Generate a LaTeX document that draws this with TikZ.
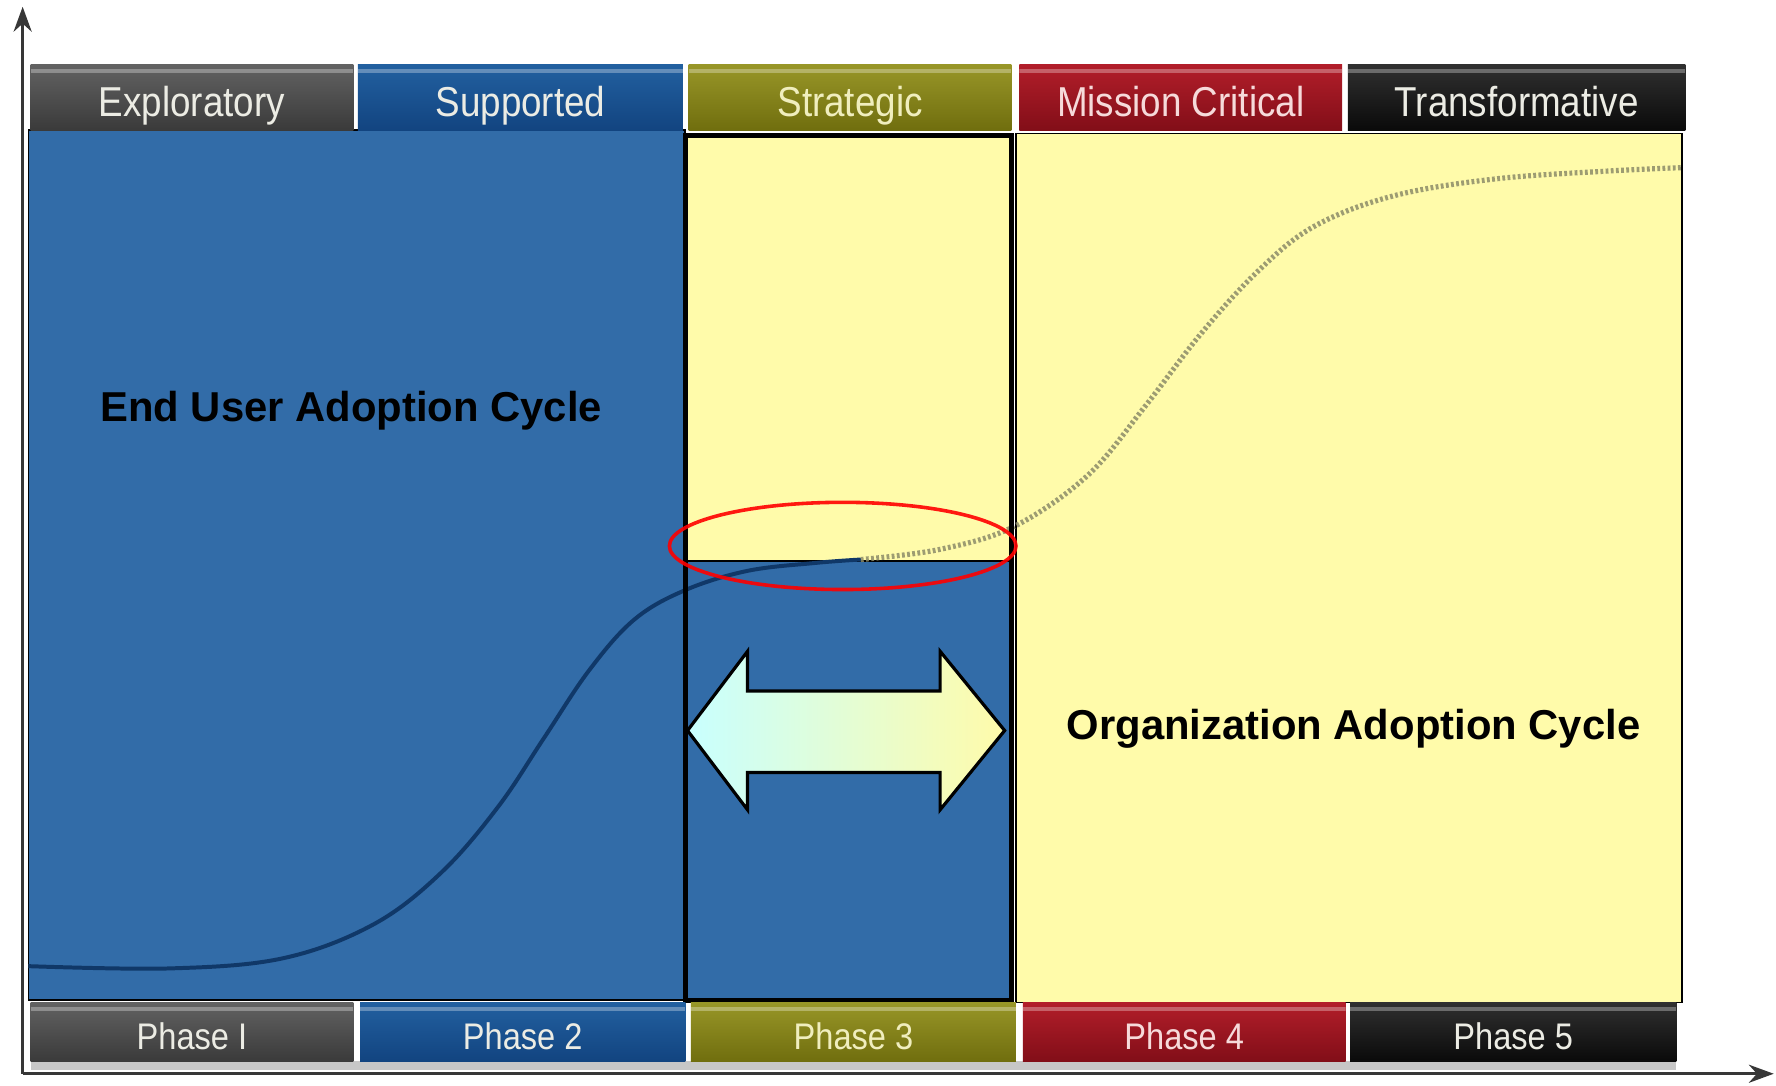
\documentclass[tikz,border=0pt]{standalone}
\usepackage{fontspec}
\setsansfont{Liberation Sans}
\usepackage{tikz}
\usetikzlibrary{positioning,arrows.meta,calc}
\definecolor{acGrayT}{RGB}{98,98,98}
\definecolor{acGrayB}{RGB}{58,58,58}
\definecolor{acBlueT}{RGB}{34,96,160}
\definecolor{acBlueB}{RGB}{18,68,128}
\definecolor{acOliveT}{RGB}{152,150,40}
\definecolor{acOliveB}{RGB}{112,110,14}
\definecolor{acRedT}{RGB}{178,30,42}
\definecolor{acRedB}{RGB}{130,14,24}
\definecolor{acBlackT}{RGB}{48,48,48}
\definecolor{acBlackB}{RGB}{10,10,10}
\definecolor{acPanel}{RGB}{50,108,168}
\definecolor{acYellow}{RGB}{255,251,170}
\definecolor{acCurve}{RGB}{16,56,104}
\definecolor{acDots}{RGB}{140,140,105}
\definecolor{acAxis}{RGB}{55,55,55}
\definecolor{acCyan}{RGB}{200,255,255}
\definecolor{acText}{RGB}{236,236,228}
\newcommand{\narrowtxt}[1]{\scalebox{0.88}[1]{#1}}
\tikzset{
    base/.style={font=\sffamily, align=center},
    bar/.style={base, rectangle, inner sep=0pt, text=acText,
                font=\sffamily\fontsize{10.5}{12}\selectfont,
                path picture={\draw[white, opacity=0.3, line width=1pt]
                  ([yshift=-1.6pt]path picture bounding box.north west) --
                  ([yshift=-1.6pt]path picture bounding box.north east);}},
    header/.style={bar, minimum height=5.8mm, text height=3.8mm, text depth=0.4mm},
    phase/.style={bar, minimum height=5.2mm, text height=3.6mm, text depth=0.4mm,
                  font=\sffamily\fontsize{9.3}{11}\selectfont},
    cycle/.style={base, font=\sffamily\bfseries\fontsize{10.5}{12}\selectfont, text=black},
    axis/.style={draw=acAxis, line width=0.7pt, -{Stealth[length=2.2mm, width=1.6mm]}}
}
\begin{document}
\begin{tikzpicture}[x=0.1mm, y=-0.1mm]
  \useasboundingbox (0,0) rectangle (1568,958);

  % panels
  \draw[fill=acPanel, line width=0.4pt] (25,115) rectangle (605,883);
  \draw[fill=acYellow, line width=0.4pt] (897,118) rectangle (1485,885);
  \fill[acYellow] (605,120) rectangle (893,495);
  \fill[acPanel] (605,495) rectangle (893,883);
  \draw[line width=0.5pt] (605,495) -- (893,495);

  % adoption curve
  \draw[acCurve, line width=1pt] plot[smooth, tension=0.6] coordinates {
    (25,853) (150,855) (250,846) (330,816) (390,770) (440,712) (480,652)
    (520,592) (560,547) (605,521) (660,504) (720,497) (760,494)};
  \draw[acDots, line width=1.3pt, dash pattern=on 0.7pt off 0.6pt, opacity=0.85]
    plot[smooth, tension=0.6] coordinates {
    (760,494) (830,485) (895,465) (960,420) (1010,360) (1060,295) (1110,240)
    (1160,200) (1230,173) (1320,158) (1420,151) (1485,148)};

  % phase 3 frame
  \draw[line width=1.3pt] (605,120) rectangle (893,883);

  % overlap marker
  \draw[red, line width=0.9pt, opacity=0.9] (744,482) ellipse (153 and 38.5);

  % two-way arrow
  \shadedraw[left color=acCyan, right color=acYellow, draw=black, line width=0.8pt]
    (607,645) -- (660,575) -- (660,610) -- (830,610) -- (830,575) -- (887,645)
    -- (830,715) -- (830,682) -- (660,682) -- (660,715) -- cycle;

  % cycle labels
  \node[cycle] (endUser) at (310,363) {End User Adoption Cycle};
  \node[cycle] (orgCycle) at (1195,643) {Organization Adoption Cycle};

  % headers
  \node[header, top color=acGrayT, bottom color=acGrayB, minimum width=28.5mm]
    (hdExploratory) at (169.5,86) {\narrowtxt{Exploratory}};
  \node[header, top color=acBlueT, bottom color=acBlueB, minimum width=28.7mm]
    (hdSupported) at (459.5,86) {\narrowtxt{Supported}};
  \node[header, top color=acOliveT, bottom color=acOliveB, minimum width=28.5mm,
    text={rgb,255:red,240;green,238;blue,190}]
    (hdStrategic) at (750.5,86) {\narrowtxt{Strategic}};
  \node[header, top color=acRedT, bottom color=acRedB, minimum width=28.5mm,
    text={rgb,255:red,246;green,218;blue,218}]
    (hdMission) at (1042.5,86) {\narrowtxt{Mission Critical}};
  \node[header, top color=acBlackT, bottom color=acBlackB, minimum width=29.8mm]
    (hdTransform) at (1339,86) {\narrowtxt{Transformative}};

  % phases
  \fill[black!22] (27,937) rectangle (1480,945);
  \node[phase, top color=acGrayT, bottom color=acGrayB, minimum width=28.5mm]
    (phOne) at (169.5,911) {\narrowtxt{Phase I}};
  \node[phase, top color=acBlueT, bottom color=acBlueB, minimum width=28.7mm]
    (phTwo) at (461.5,911) {\narrowtxt{Phase 2}};
  \node[phase, top color=acOliveT, bottom color=acOliveB, minimum width=28.7mm,
    text={rgb,255:red,240;green,238;blue,190}]
    (phThree) at (753.5,911) {\narrowtxt{Phase 3}};
  \node[phase, top color=acRedT, bottom color=acRedB, minimum width=28.5mm,
    text={rgb,255:red,246;green,218;blue,218}]
    (phFour) at (1045.5,911) {\narrowtxt{Phase 4}};
  \node[phase, top color=acBlackT, bottom color=acBlackB, minimum width=28.8mm]
    (phFive) at (1336,911) {\narrowtxt{Phase 5}};

  % axes
  \coordinate (origin) at (20,948);
  \coordinate (yEnd) at (20,6);
  \coordinate (xEnd) at (1566,948);
  \draw[axis] (origin) -- (yEnd);
  \draw[axis] (origin) -- (xEnd);
\end{tikzpicture}
\end{document}
